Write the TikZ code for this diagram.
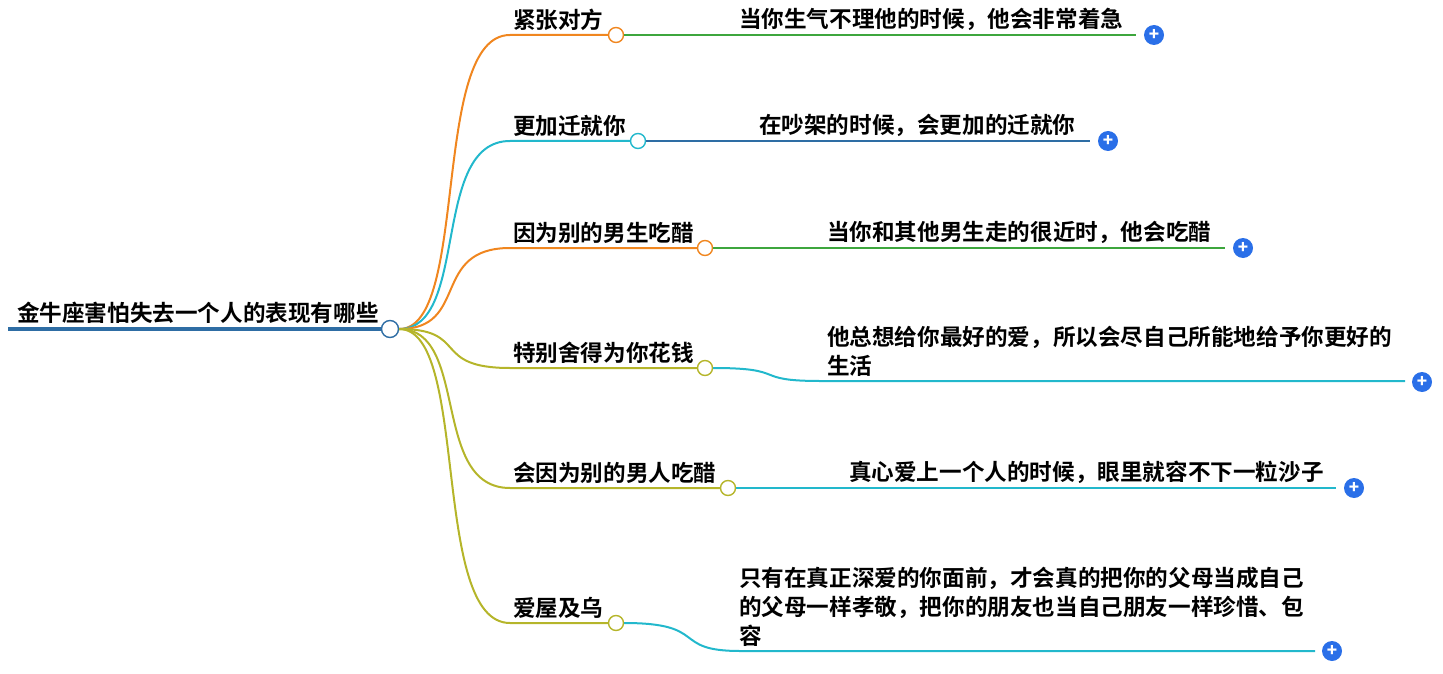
\documentclass[tikz,border=0pt]{standalone}
\usepackage{fontspec}
\setmainfont{Noto Sans CJK SC Bold}
\definecolor{rootblue}{HTML}{2E6DA4}
\definecolor{branchorange}{HTML}{F0861F}
\definecolor{branchcyan}{HTML}{22B8CC}
\definecolor{branckolive}{HTML}{B5B52A}
\definecolor{leafgreen}{HTML}{3DA63D}
\definecolor{plusblue}{HTML}{2A6FE8}
\begin{document}
\begin{tikzpicture}[x=1pt,y=-1pt,line width=2pt]
  % Styles
  \tikzset{
    knob/.style={circle,draw,fill=white,minimum size=15pt,inner sep=0pt,line width=1.4pt},
    plus/.style={circle,fill=plusblue,minimum size=20pt,inner sep=0pt,text=white,font=\bfseries\fontsize{17}{17}\selectfont},
    label/.style={anchor=south west,inner sep=2pt,font=\fontsize{22.6}{26}\selectfont},
    leaftext/.style={anchor=south west,inner sep=2pt,align=left,font=\fontsize{22.6}{29}\selectfont}
  }
  \useasboundingbox (0,0) rectangle (1443,674);

  % Root
  \draw[rootblue,line width=4pt] (8,329) -- (382,329);
  \node[label] (root) at (14,327) {金牛座害怕失去一个人的表现有哪些};
  \node[knob,draw=rootblue,minimum size=17pt] (r) at (390,329) {};

  % Branches
  \foreach \name/\y/\cx/\col/\txt in {
      a/35/616/branchorange/紧张对方,
      b/141/638/branchcyan/更加迁就你,
      c/248/705/branchorange/因为别的男生吃醋,
      d/368/705/branckolive/特别舍得为你花钱,
      e/488/728/branckolive/会因为别的男人吃醋,
      f/623/616/branckolive/爱屋及乌}{
    \draw[\col] (r.east) .. controls (470,329) and (430,\y) .. (510,\y) -- (\cx-8,\y);
    \node[knob,draw=\col] (\name) at (\cx,\y) {};
    \node[label] (\name t) at (510,\y-1) {\txt};
  }

  % Leaves
  \coordinate (a1) at (1136,35);
  \draw[leafgreen] (a.east) -- (a1);
  \node[leaftext] at (736,34) {当你生气不理他的时候，他会非常着急};
  \node[plus] (ap) at (1154,35) {+};

  \coordinate (b1) at (1090,141);
  \draw[rootblue] (b.east) -- (b1);
  \node[leaftext] at (756,140) {在吵架的时候，会更加的迁就你};
  \node[plus] (bp) at (1108,141) {+};

  \coordinate (c1) at (1225,248);
  \draw[leafgreen] (c.east) -- (c1);
  \node[leaftext] at (824,247) {当你和其他男生走的很近时，他会吃醋};
  \node[plus] (cp) at (1243,248) {+};

  \coordinate (d1) at (1405,381);
  \draw[branchcyan] (d.east) .. controls (790,368) and (750,381) .. (820,381) -- (d1);
  \node[leaftext] at (824,380) {他总想给你最好的爱，所以会尽自己所能地给予你更好的\\生活};
  \node[plus] (dp) at (1422,382) {+};

  \coordinate (e1) at (1336,488);
  \draw[branchcyan] (e.east) -- (e1);
  \node[leaftext] at (846,487) {真心爱上一个人的时候，眼里就容不下一粒沙子};
  \node[plus] (ep) at (1354,488) {+};

  \coordinate (f1) at (1315,651);
  \draw[branchcyan] (f.east) .. controls (710,623) and (670,651) .. (740,651) -- (f1);
  \node[leaftext] at (736,650) {只有在真正深爱的你面前，才会真的把你的父母当成自己\\的父母一样孝敬，把你的朋友也当自己朋友一样珍惜、包\\容};
  \node[plus] (fp) at (1332,651) {+};
\end{tikzpicture}
\end{document}
